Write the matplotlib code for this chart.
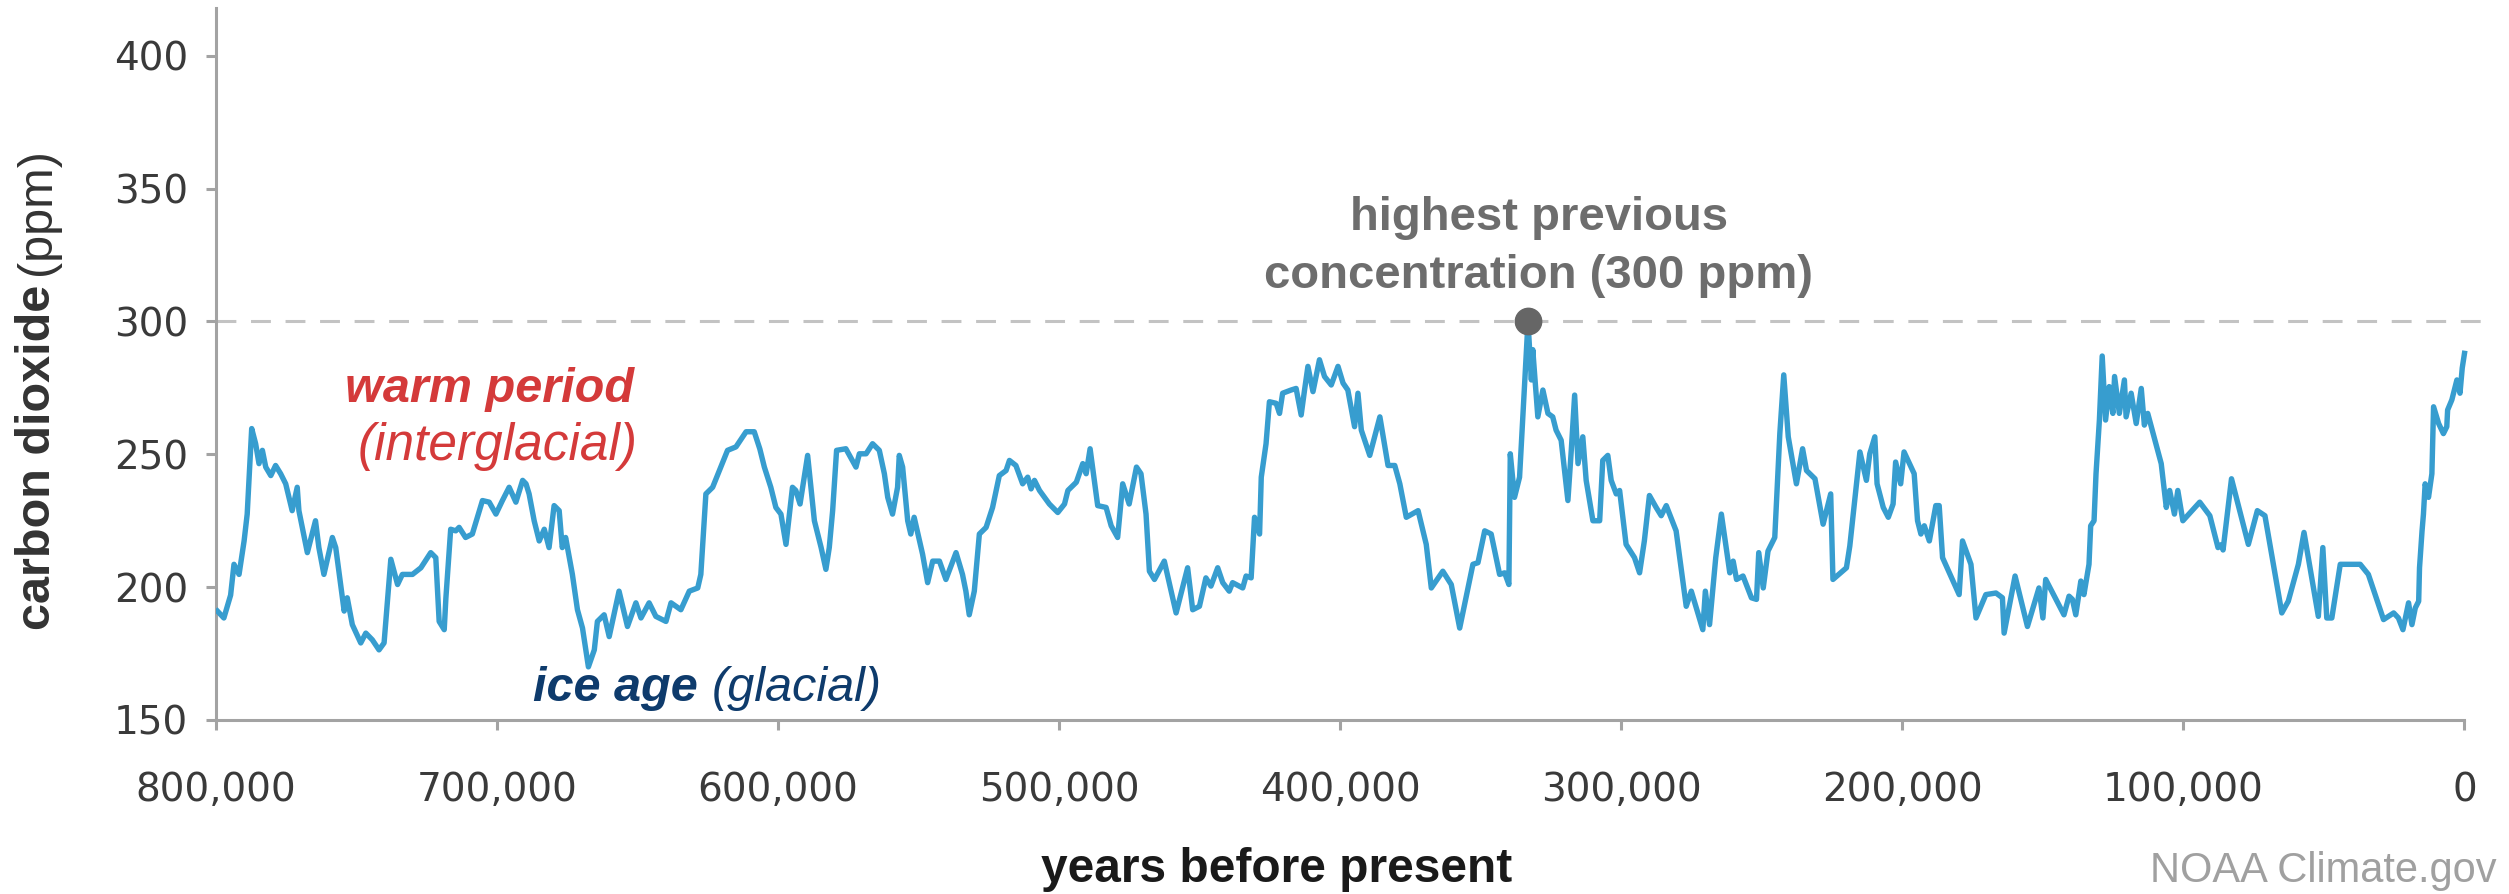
import matplotlib
matplotlib.use("Agg")
import matplotlib.pyplot as plt
from matplotlib.ticker import FixedLocator, FuncFormatter

# ---- data (age in thousands of years before present) ----
age_kyr = [
    799.5, 797.2, 794.8, 793.6, 791.8, 790.0, 788.9, 787.3, 785.9, 784.7,
    783.5, 782.3, 780.5, 778.8, 777.0, 775.2, 772.9, 771.1, 770.5, 767.5,
    764.6, 763.4, 761.6, 758.6, 757.4, 754.4, 753.3, 751.5, 748.5, 746.7,
    744.4, 742.0, 740.2, 737.8, 735.4, 733.7, 730.1, 727.1, 723.6, 721.8,
    720.6, 718.8, 718.2, 716.5, 714.7, 713.5, 711.2, 708.8, 705.2, 702.8,
    700.4, 698.1, 695.7, 693.3, 690.9, 689.7, 688.6, 686.8, 685.0, 683.2,
    681.5, 679.7, 677.9, 676.8, 675.6, 673.2, 671.4, 669.6, 667.5, 665.4,
    664.3, 661.9, 660.1, 656.6, 653.6, 650.6, 648.8, 645.9, 643.5, 639.9,
    638.1, 634.6, 631.6, 628.6, 627.5, 625.7, 623.3, 618.0, 615.0, 611.4,
    608.5, 606.5, 604.9, 602.6, 600.8, 599.0, 597.2, 594.9, 593.7, 592.2,
    589.5, 587.1, 584.7, 583.0, 581.8, 580.6, 579.2, 575.9, 572.3, 571.1,
    568.7, 566.4, 564.0, 562.2, 561.0, 559.3, 557.5, 556.9, 555.7, 553.9,
    552.8, 551.6, 548.6, 546.8, 545.0, 542.6, 540.3, 536.7, 534.4, 533.2,
    532.0, 530.2, 528.4, 526.0, 523.7, 521.3, 518.9, 517.7, 515.4, 513.0,
    511.2, 510.0, 508.8, 507.0, 503.5, 500.5, 498.1, 496.9, 493.9, 491.6,
    490.4, 489.0, 487.5, 486.3, 483.3, 481.5, 479.2, 477.4, 475.1, 472.5,
    470.9, 469.1, 467.9, 466.1, 462.6, 458.4, 454.3, 452.5, 450.1, 447.8,
    446.0, 443.6, 441.8, 439.5, 438.3, 434.7, 433.5, 431.7, 430.5, 428.7,
    428.1, 426.4, 425.2, 422.8, 421.6, 420.5, 417.5, 415.7, 413.9, 412.7,
    411.5, 409.7, 407.4, 405.6, 403.2, 400.8, 399.0, 397.3, 394.9, 393.7,
    392.5, 389.5, 385.9, 383.0, 380.6, 378.8, 376.5, 372.3, 369.4, 367.6,
    363.5, 360.5, 357.5, 352.8, 351.0, 348.6, 346.3, 343.3, 341.5, 340.0,
    339.5, 338.0, 336.2, 334.4, 333.2, 332.0, 331.5, 329.7, 327.9, 326.1,
    324.4, 323.2, 321.4, 319.0, 317.8, 316.6, 315.4, 313.7, 312.5, 310.1,
    307.7, 306.6, 304.8, 303.6, 301.8, 300.6, 298.3, 295.3, 293.5, 291.8,
    290.0, 287.6, 285.8, 284.0, 280.5, 276.9, 275.1, 271.0, 270.1, 268.6,
    266.4, 264.4, 261.4, 260.2, 259.0, 256.7, 253.7, 251.9, 251.1, 249.5,
    247.8, 245.4, 243.6, 242.2, 240.6, 237.7, 235.5, 234.1, 231.1, 228.2,
    225.5, 224.7, 219.9, 218.7, 215.1, 212.8, 211.6, 209.8, 209.0, 206.8,
    205.0, 203.3, 202.4, 200.6, 199.4, 195.8, 194.6, 193.4, 192.2, 190.4,
    188.1, 186.9, 185.7, 179.8, 178.6, 175.6, 173.8, 170.3, 166.7, 164.4,
    163.8, 159.9, 155.5, 151.4, 150.0, 149.0, 142.5, 140.7, 139.5, 138.3,
    136.5, 135.4, 133.6, 133.0, 131.8, 131.1, 129.9, 128.9, 127.7, 126.4,
    125.1, 124.5, 122.8, 121.0, 120.4, 118.6, 116.8, 115.0, 113.9, 112.7,
    107.9, 106.1, 104.9, 103.2, 102.0, 100.2, 94.2, 90.6, 87.7, 86.5,
    85.9, 82.9, 76.9, 73.7, 71.0, 65.0, 62.7, 59.1, 57.1, 52.0,
    50.4, 49.0, 47.2, 44.2, 37.1, 34.2, 28.8, 25.2, 23.5, 21.9,
    19.9, 18.7, 17.5, 16.3, 16.0, 15.1, 14.6, 14.0, 12.8, 11.6,
    11.0, 9.2, 7.5, 6.3, 6.0, 4.5, 2.7, 1.6, 0.8, 0.0,
]
co2_ppm = [
    191.0, 188.4, 197.0, 208.6, 204.8, 217.4, 227.5, 259.7, 254.0, 246.5,
    251.5, 245.2, 242.0, 245.8, 242.7, 238.9, 228.8, 237.6, 228.8, 213.0,
    225.0, 214.9, 204.8, 218.7, 214.9, 191.0, 196.0, 185.9, 179.0, 182.7,
    180.2, 176.4, 179.0, 210.5, 201.0, 204.8, 204.8, 207.3, 213.0, 211.1,
    187.1, 184.0, 196.0, 221.8, 221.2, 222.5, 218.7, 220.0, 232.6, 232.0,
    227.5, 232.6, 237.6, 232.0, 240.2, 238.9, 235.1, 225.0, 217.4, 221.8,
    214.9, 230.7, 228.8, 214.9, 218.7, 204.8, 191.5, 184.6, 170.0, 176.4,
    187.1, 189.6, 181.4, 198.5, 185.2, 194.1, 188.4, 194.1, 189.0, 187.1,
    194.1, 191.5, 198.5, 199.7, 204.8, 235.1, 237.6, 251.5, 252.8, 258.5,
    258.5, 252.0, 245.2, 237.6, 230.0, 227.5, 216.1, 237.6, 236.4, 231.3,
    249.6, 225.0, 214.9, 206.7, 214.9, 228.8, 251.5, 252.1, 245.2, 250.2,
    250.2, 254.0, 251.5, 242.7, 233.8, 227.5, 237.6, 249.6, 245.2, 225.0,
    220.0, 226.3, 212.4, 201.7, 209.8, 209.8, 202.9, 213.0, 204.8, 198.5,
    189.6, 198.5, 220.0, 222.5, 230.0, 242.0, 243.9, 247.7, 245.8, 238.9,
    241.4, 237.0, 240.2, 236.4, 231.3, 228.1, 231.3, 236.4, 239.5, 246.5,
    242.7, 252.1, 240.2, 230.7, 230.0, 223.1, 218.7, 238.9, 231.3, 245.2,
    242.7, 227.5, 206.0, 202.9, 209.8, 190.3, 207.3, 191.5, 192.8, 203.5,
    200.4, 207.3, 201.7, 198.5, 201.7, 199.7, 204.2, 203.5, 226.3, 220.0,
    241.4, 254.0, 269.8, 269.2, 265.4, 273.0, 274.2, 274.8, 264.8, 274.2,
    283.1, 273.6, 285.6, 279.3, 276.1, 283.1, 276.8, 274.2, 260.4, 273.0,
    259.1, 249.6, 264.1, 245.8, 245.8, 238.9, 226.3, 228.8, 216.1, 199.7,
    206.0, 201.0, 184.6, 208.6, 209.2, 221.2, 220.0, 204.8, 205.4, 201.0,
    250.2, 233.8, 241.4, 276.8, 300.0, 278.0, 289.4, 264.1, 274.2, 265.4,
    264.1, 259.1, 255.3, 232.6, 251.5, 272.3, 246.5, 256.6, 240.2, 225.0,
    225.0, 247.7, 249.6, 240.2, 235.1, 236.4, 216.1, 211.1, 205.4, 217.4,
    234.5, 230.0, 226.9, 230.7, 221.2, 192.8, 198.5, 184.0, 198.5, 185.9,
    211.1, 227.5, 205.4, 209.8, 202.9, 204.2, 196.0, 195.4, 213.0, 199.7,
    213.6, 218.7, 257.8, 279.9, 256.6, 238.9, 252.1, 243.9, 240.8, 223.7,
    235.1, 202.9, 207.3, 215.5, 250.9, 240.2, 250.2, 256.6, 238.9, 230.0,
    226.3, 231.3, 247.1, 238.9, 250.9, 242.7, 225.0, 220.0, 223.1, 217.4,
    230.7, 230.7, 211.1, 197.2, 217.4, 208.6, 188.4, 197.2, 197.8, 196.0,
    182.7, 204.2, 185.2, 199.7, 188.4, 202.9, 189.6, 196.6, 195.4, 189.6,
    202.3, 197.2, 208.6, 223.1, 225.0, 242.7, 262.9, 287.0, 262.9, 275.5,
    265.4, 279.3, 265.4, 278.0, 264.1, 273.0, 261.6, 274.8, 261.0, 265.4,
    246.5, 230.0, 236.4, 227.5, 236.4, 225.0, 232.0, 226.9, 214.9, 216.0,
    214.0, 240.8, 216.1, 228.8, 226.9, 190.3, 194.7, 208.6, 220.6, 189.0,
    214.9, 188.4, 188.4, 208.6, 208.6, 204.8, 187.8, 190.3, 188.4, 184.0,
    194.1, 185.9, 192.2, 194.7, 207.3, 221.2, 227.5, 238.9, 233.8, 242.7,
    267.9, 261.6, 257.8, 260.4, 266.7, 270.5, 278.0, 273.0, 282.5, 288.0,
]

x_ticks = [800, 700, 600, 500, 400, 300, 200, 100, 0]
y_ticks = [150, 200, 250, 300, 350, 400]
ref_level = 300          # highest previous concentration
peak_age = 333.2
peak_co2 = 300

# ---- colours ----
LINE_BLUE = "#379dcf"
AXIS_GRAY = "#a3a3a3"
DASH_GRAY = "#c3c3c3"
DOT_GRAY = "#666666"
WARM_RED = "#d43a3a"
ICE_NAVY = "#0e3b6c"

W, H = 2509, 894
plt.rcParams["font.family"] = ["DejaVu Sans"]
ARIAL = ["Liberation Sans", "DejaVu Sans"]

fig = plt.figure(figsize=(W / 100, H / 100), dpi=100)
# axes box in pixels: left 216, right 2494, top 8, bottom 720
ax = fig.add_axes([216 / W, 1 - 720 / H, (2494 - 216) / W, (720 - 8) / H])

ax.axhline(ref_level, color=DASH_GRAY, lw=2.2, linestyle=(0, (6.5, 4.8)), zorder=1)
ax.plot(age_kyr, co2_ppm, color=LINE_BLUE, lw=3.9, solid_joinstyle="round", zorder=3)
ax.plot([peak_age], [peak_co2], "o", ms=19, color=DOT_GRAY, zorder=4)

ax.set_xlim(800, -10.5)
ax.set_ylim(150, 418)

for side in ("top", "right"):
    ax.spines[side].set_visible(False)
for side in ("left", "bottom"):
    ax.spines[side].set_color(AXIS_GRAY)
    ax.spines[side].set_linewidth(2.2)
ax.spines["bottom"].set_bounds(0, 800)

ax.xaxis.set_major_locator(FixedLocator(x_ticks))
ax.xaxis.set_major_formatter(FuncFormatter(lambda v, p: f"{int(round(v * 1000)):,}"))
ax.yaxis.set_major_locator(FixedLocator(y_ticks))
ax.tick_params(axis="both", colors=AXIS_GRAY, width=2.2, length=7, labelcolor="#3a3a3a", labelsize=28)
ax.tick_params(axis="x", pad=30)
ax.tick_params(axis="y", pad=13)


def px(x, y):
    return x / W, 1 - y / H


renderer = fig.canvas.get_renderer()

# y label: bold part + regular part, rotated
t1 = fig.text(*px(50, 630), "carbon dioxide", rotation=90, rotation_mode="anchor",
              ha="left", va="baseline", fontsize=35, fontweight="bold",
              family=ARIAL, color="#333333")
bb = t1.get_window_extent(renderer)
fig.text(50 / W, (bb.y1 + 10) / H, "(ppm)", rotation=90, rotation_mode="anchor",
         ha="left", va="baseline", fontsize=35, family=ARIAL, color="#333333")

# x label
fig.text(*px(1277, 882), "years before present", ha="center", va="baseline",
         fontsize=34.5, fontweight="bold", family=ARIAL, color="#1a1a1a")

# credit
fig.text(*px(2150, 882), "NOAA Climate.gov", ha="left", va="baseline",
         fontsize=30, family=ARIAL, color="#a0a0a0")

# annotation for the peak
fig.text(*px(1539, 230), "highest previous", ha="center", va="baseline",
         fontsize=34, fontweight="bold", family=ARIAL, color="#6d6d6d")
fig.text(*px(1539, 288), "concentration (300 ppm)", ha="center", va="baseline",
         fontsize=34, fontweight="bold", family=ARIAL, color="#6d6d6d")

# warm period label
fig.text(*px(490, 402), "warm period", ha="center", va="baseline", fontsize=35,
         fontweight="bold", style="italic", family=ARIAL, color=WARM_RED)
fig.text(*px(498, 460), "(interglacial)", ha="center", va="baseline", fontsize=37,
         style="italic", family=ARIAL, color=WARM_RED)

# ice age label
t2 = fig.text(*px(533, 701), "ice age", ha="left", va="baseline", fontsize=35,
              fontweight="bold", style="italic", family=ARIAL, color=ICE_NAVY)
bb = t2.get_window_extent(renderer)
fig.text((bb.x1 + 14) / W, 1 - 701 / H, "(glacial)", ha="left", va="baseline",
         fontsize=35, style="italic", family=ARIAL, color=ICE_NAVY)

fig.savefig("out.png", dpi=100)
